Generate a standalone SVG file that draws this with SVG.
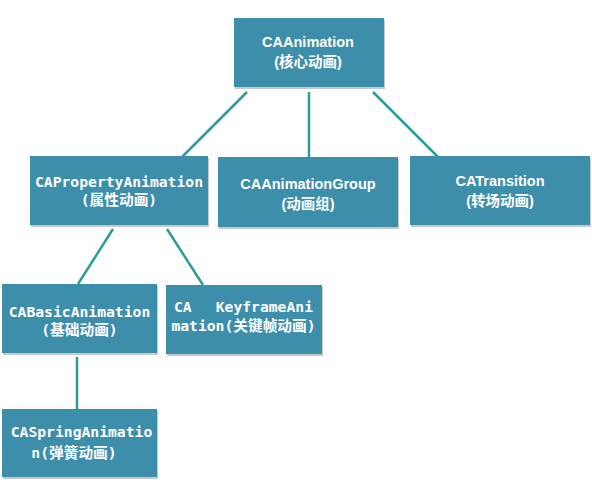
<svg xmlns="http://www.w3.org/2000/svg" width="592" height="497" viewBox="0 0 592 497">
<style>
.box{fill:#3d8eaa}
.sh{fill:#c8c8c8}
.s{font-family:"Liberation Sans","Noto Sans CJK SC",sans-serif;font-weight:bold;font-size:14.5px;fill:#fff;text-anchor:middle}
.m{font-family:"DejaVu Sans Mono","Noto Sans CJK SC",monospace;font-weight:bold;font-size:14.7px;fill:#fff;text-anchor:middle}
.c{stroke:#2f9a9a;stroke-width:2.5;fill:none}
</style>
<rect width="592" height="497" fill="#fff"/>
<g id="connectors">
<line class="c" x1="247" y1="92" x2="182" y2="157"/>
<line class="c" x1="309" y1="92" x2="309" y2="157"/>
<line class="c" x1="373" y1="92" x2="438" y2="157"/>
<line class="c" x1="113" y1="229" x2="78" y2="284"/>
<line class="c" x1="167" y1="229" x2="203" y2="285"/>
<line class="c" x1="77" y1="357" x2="77" y2="409"/>
</g>
<g id="CAAnimation">
<rect class="sh" x="235" y="20" width="150" height="69"/>
<rect class="box" x="234" y="18" width="150" height="69"/>
<text class="s" x="308" y="47">CAAnimation</text>
<text class="s" x="308" y="67">(核心动画)</text>
</g>
<g id="CAPropertyAnimation">
<rect class="sh" x="31" y="158" width="178" height="69"/>
<rect class="box" x="30" y="156" width="178" height="69"/>
<text class="m" x="119" y="187">CAPropertyAnimation</text>
<text class="m" x="119" y="205">(属性动画)</text>
</g>
<g id="CAAnimationGroup">
<rect class="sh" x="219" y="159" width="180" height="70"/>
<rect class="box" x="218" y="157" width="180" height="70"/>
<text class="s" x="308" y="189">CAAnimationGroup</text>
<text class="s" x="308" y="209">(动画组)</text>
</g>
<g id="CATransition">
<rect class="sh" x="411" y="158" width="180" height="69"/>
<rect class="box" x="410" y="156" width="180" height="69"/>
<text class="s" x="500" y="186">CATransition</text>
<text class="s" x="500" y="206">(转场动画)</text>
</g>
<g id="CABasicAnimation">
<rect class="sh" x="3" y="286" width="155" height="69"/>
<rect class="box" x="2" y="284" width="155" height="69"/>
<text class="m" x="79.5" y="317">CABasicAnimation</text>
<text class="m" x="79.5" y="335">(基础动画)</text>
</g>
<g id="CAKeyframeAnimation">
<rect class="sh" x="167" y="287" width="156" height="69"/>
<rect class="box" x="166" y="285" width="156" height="69"/>
<text class="m" x="174" y="312" style="text-anchor:start">CA</text>
<text class="m" x="313" y="312" style="text-anchor:end">KeyframeAni</text>
<text class="m" x="243.5" y="331">mation(关键帧动画)</text>
</g>
<g id="CASpringAnimation">
<rect class="sh" x="3" y="411" width="155" height="68"/>
<rect class="box" x="2" y="409" width="155" height="68"/>
<text class="m" x="81.5" y="437">CASpringAnimatio</text>
<text class="m" x="74" y="458">n(弹簧动画)</text>
</g>
</svg>
